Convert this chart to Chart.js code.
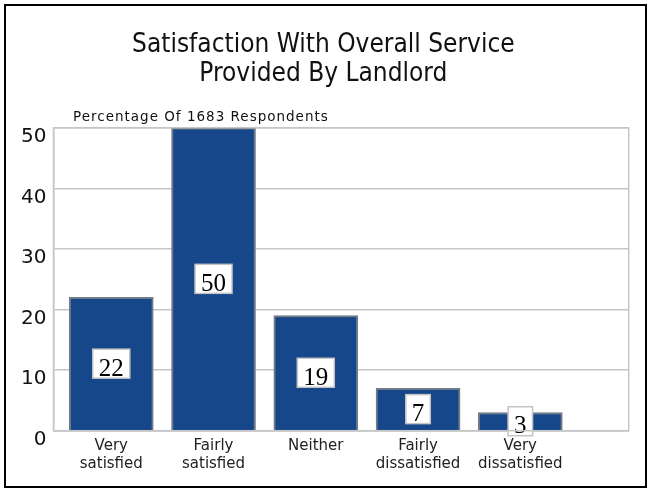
<!DOCTYPE html>
<html>
<head>
<meta charset="utf-8">
<script src="https://cdn.jsdelivr.net/npm/chart.js@4"></script>
<style>
  html, body { margin: 0; padding: 0; background: #fff; }
  #frame {
    position: absolute; left: 4px; top: 4px;
    width: 639px; height: 480px;
    border: 2px solid #000;
  }
  #chart { display: block; }
</style>
</head>
<body>
<div id="frame"><canvas id="chart" width="639" height="480"></canvas></div>
<script>
/* ==========================================
   DATA
========================================== */

const categories = [
  ["Very", "satisfied"],
  ["Fairly", "satisfied"],
  ["Neither"],
  ["Fairly", "dissatisfied"],
  ["Very", "dissatisfied"]
];

const percentages = [22, 50, 19, 7, 3];

const yTicks = [0, 10, 20, 30, 40, 50];

const subtitleText = "Percentage Of 1683 Respondents";

/* ==========================================
   PLUGINS
========================================== */

/* FRAME AROUND PLOT AREA */
const plotFrame = {
  id: "plotFrame",
  afterDraw(chart) {
    const { ctx, chartArea: a } = chart;
    ctx.save();
    ctx.strokeStyle = "#c6c6c6";
    ctx.lineWidth = 1.5;
    ctx.strokeRect(a.left, a.top, a.right - a.left, a.bottom - a.top);
    ctx.restore();
  }
};

/* SUBTITLE ABOVE PLOT */
const subtitle = {
  id: "subtitle",
  afterDraw(chart) {
    const { ctx, chartArea: a } = chart;
    ctx.save();
    ctx.font = "13.5px 'DejaVu Sans'";
    ctx.letterSpacing = "1px";
    ctx.fillStyle = "#111";
    ctx.textBaseline = "alphabetic";
    ctx.fillText(subtitleText, a.left + 19.5, a.top - 7);
    ctx.restore();
  }
};

/* VALUE BOXES IN BARS */
const valueBoxes = {
  id: "valueBoxes",
  afterDatasetsDraw(chart) {
    const { ctx } = chart;
    const meta = chart.getDatasetMeta(0);
    ctx.save();
    ctx.font = "25px 'Liberation Serif'";
    ctx.textAlign = "center";
    ctx.textBaseline = "alphabetic";
    meta.data.forEach((bar, i) => {
      const text = String(percentages[i]);
      const mid = (bar.y + bar.base) / 2;
      const w = ctx.measureText(text).width + 12;
      const h = 29;
      ctx.fillStyle = "#fff";
      ctx.fillRect(bar.x - w / 2, mid - h / 2, w, h);
      ctx.strokeStyle = "#c4c4c4";
      ctx.lineWidth = 1.5;
      ctx.strokeRect(bar.x - w / 2, mid - h / 2, w, h);
      ctx.fillStyle = "#000";
      ctx.fillText(text, bar.x, mid + 12);
    });
    ctx.restore();
  }
};

/* ==========================================
   CHART
========================================== */

new Chart(
  document.getElementById("chart"),
  {
    type: "bar",

    data: {
      datasets: [{
        data: percentages.map((v, i) => ({ x: i, y: v })),
        backgroundColor: "#15478a",
        borderColor: "#707a88",
        borderWidth: 2,
        borderSkipped: "bottom",
        barThickness: 84
      }]
    },

    options: {
      responsive: false,
      animation: false,
      events: [],

      layout: {
        padding: { left: 0, right: 4.3, top: 0, bottom: 0 }
      },

      plugins: {
        legend: { display: false },
        tooltip: { enabled: false },
        title: {
          display: true,
          text: ["Satisfaction With Overall Service", "Provided By Landlord"],
          color: "#111",
          font: { family: "'DejaVu Sans Condensed', 'DejaVu Sans'", size: 26, weight: "normal", lineHeight: 1.12 },
          padding: { top: 25, bottom: 38.5 }
        }
      },

      scales: {
        x: {
          type: "linear",
          offset: false,
          min: -0.565,
          max: 5.06,
          grid: { display: false, drawTicks: false, offset: false },
          border: { display: true, color: "#c6c6c6", width: 1.5 },
          afterBuildTicks: (axis) => {
            axis.ticks = categories.map((c, i) => ({ value: i }));
          },
          afterFit: (axis) => { axis.height = 55.3; },
          ticks: {
            autoSkip: false,
            maxRotation: 0,
            padding: 7,
            color: "#222",
            font: { family: "'DejaVu Sans'", size: 15, lineHeight: 1.17 },
            callback: (v) => categories[v] || ""
          }
        },
        y: {
          min: 0,
          max: 50,
          afterBuildTicks: (axis) => {
            axis.ticks = yTicks.map((v) => ({ value: v }));
          },
          afterFit: (axis) => { axis.width = 47.5; },
          grid: { color: "#c6c6c6", lineWidth: 1.5, drawTicks: false },
          border: { display: true, color: "#c6c6c6", width: 1.5 },
          ticks: {
            padding: 7,
            labelOffset: 9,
            color: "#111",
            font: { family: "'DejaVu Sans'", size: 20 }
          }
        },
        /* empty right margin so the title stays centred on the page */
        yRight: {
          position: "right",
          display: true,
          grid: { display: false, drawTicks: false },
          border: { display: false },
          ticks: { display: false },
          afterFit: (axis) => { axis.width = 12; }
        }
      }
    },

    plugins: [plotFrame, subtitle, valueBoxes]
  }
);
</script>
</body>
</html>
